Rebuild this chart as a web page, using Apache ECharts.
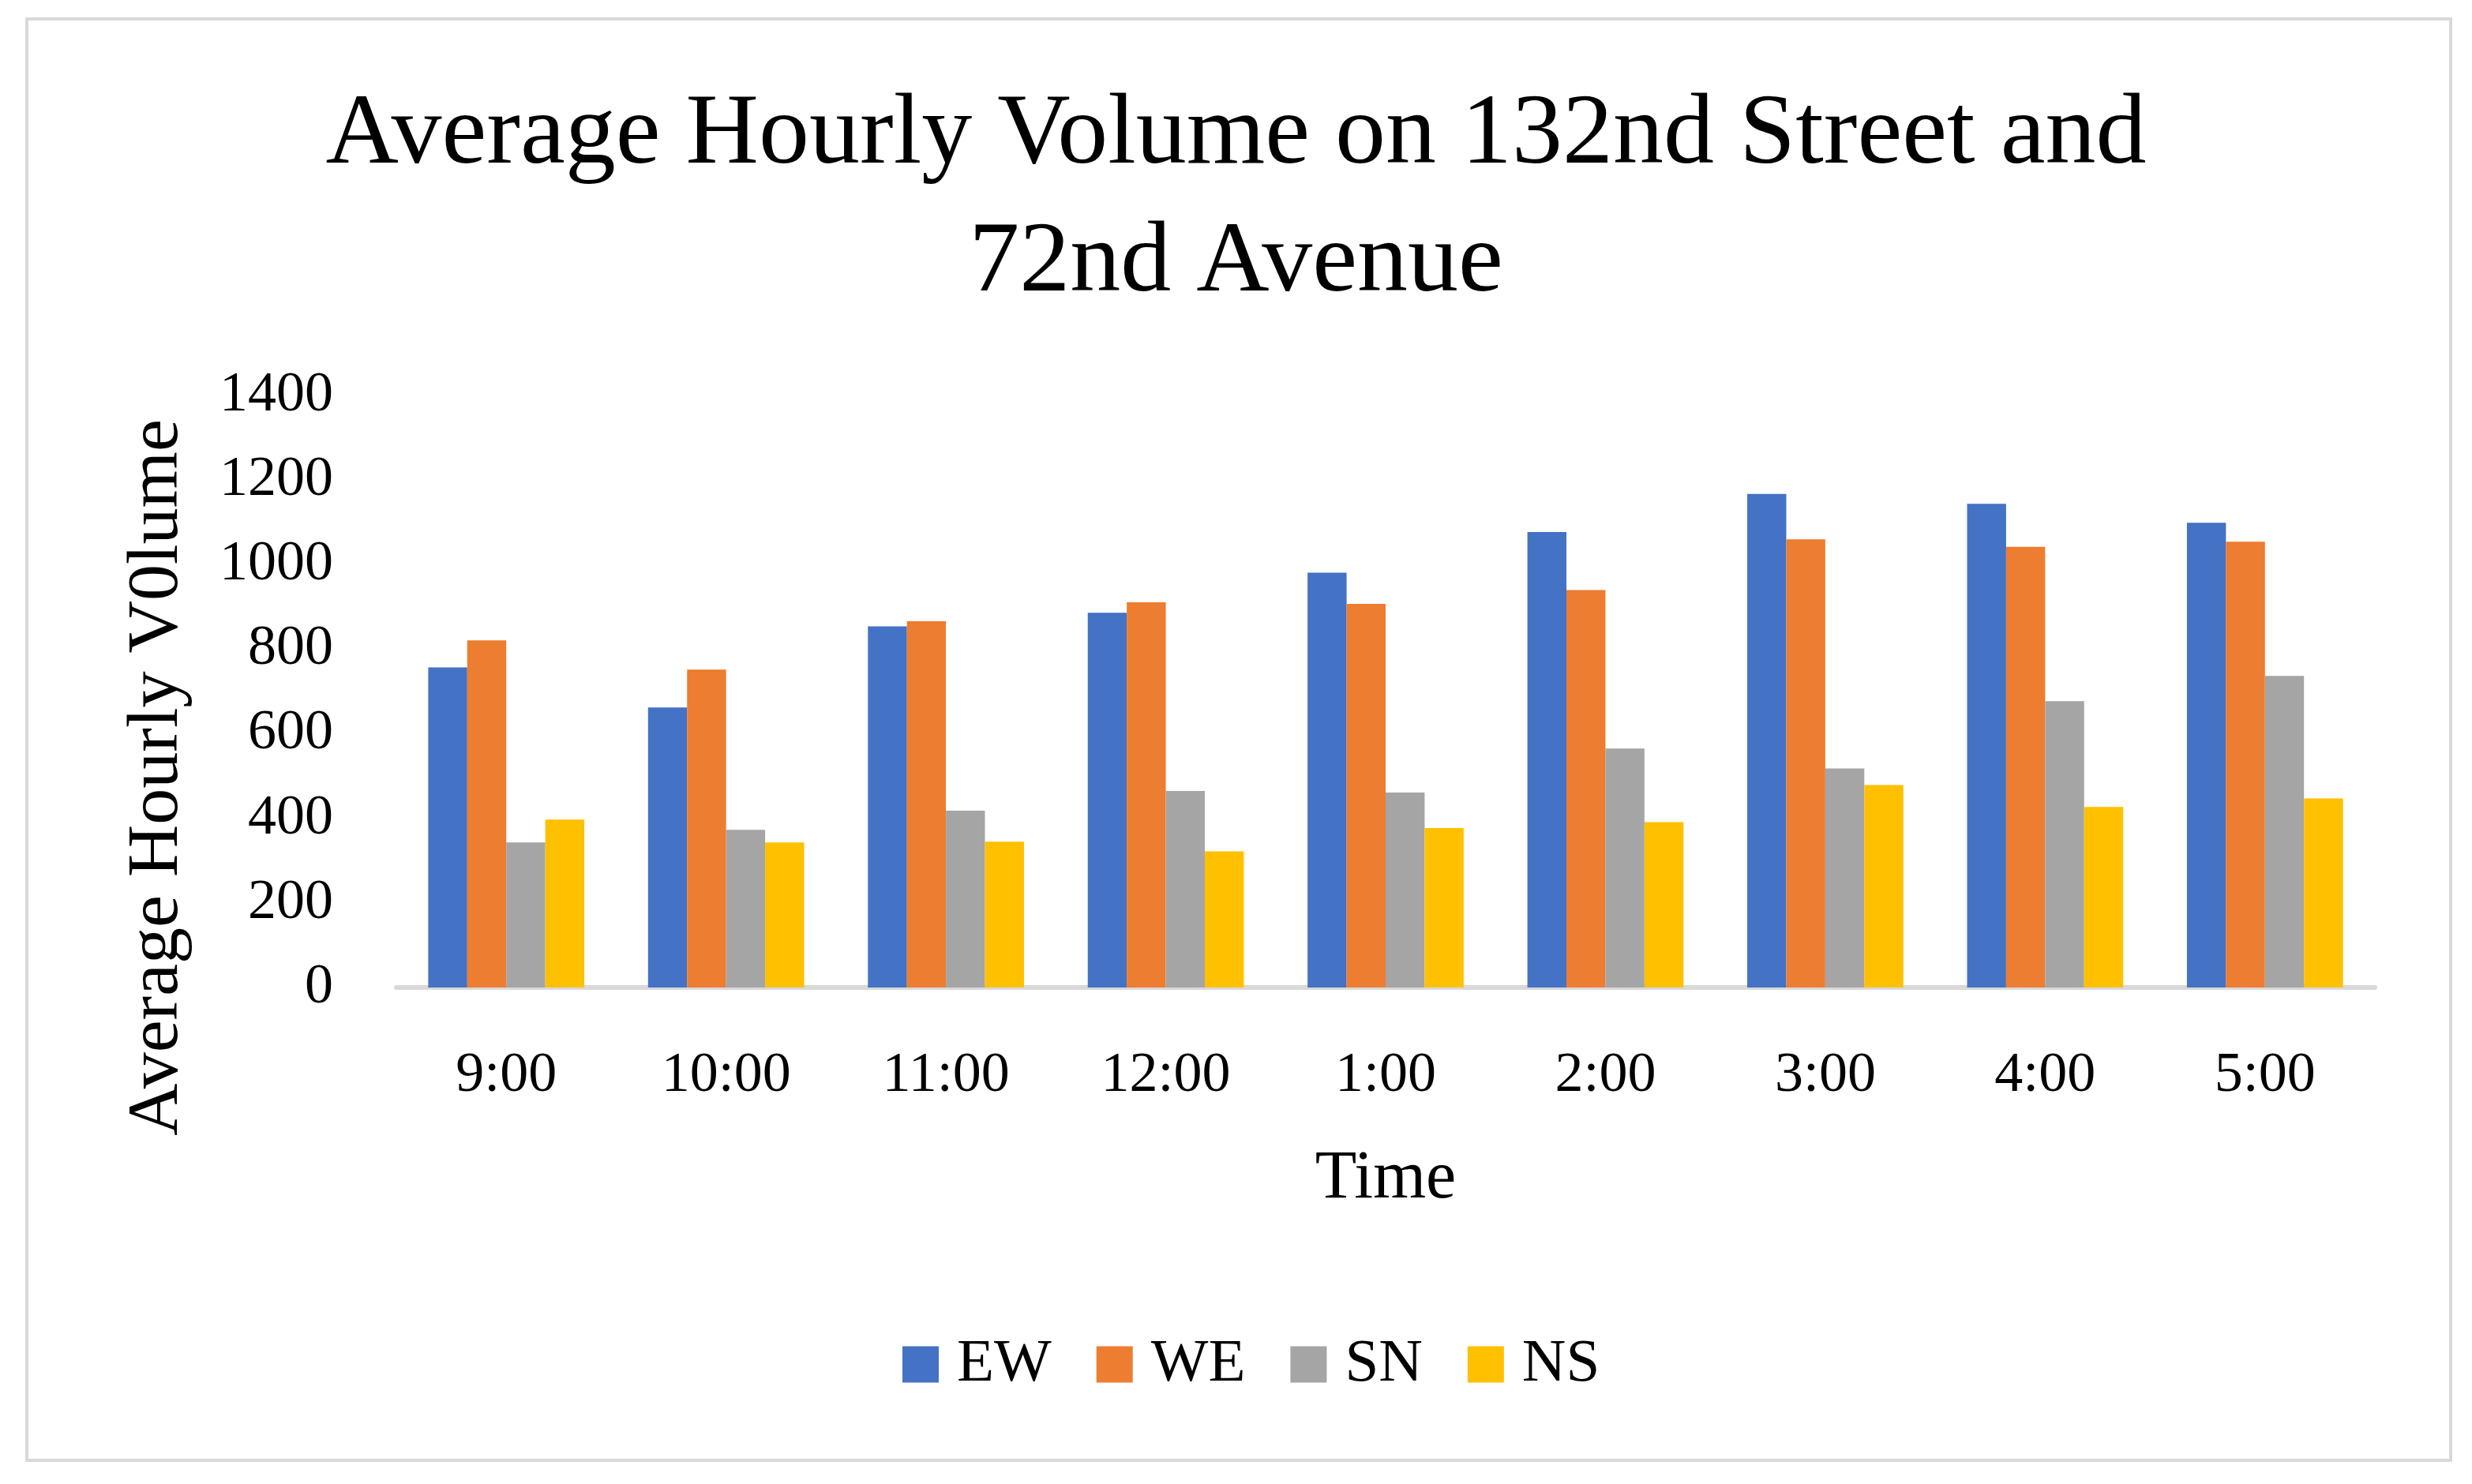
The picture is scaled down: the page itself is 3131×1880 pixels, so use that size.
<!DOCTYPE html>
<html>
<head>
<meta charset="utf-8">
<script src="https://cdn.jsdelivr.net/npm/echarts@6/dist/echarts.min.js"></script>
<style>
html,body{margin:0;padding:0;background:#fff;}
#chart{width:3131px;height:1880px;}
</style>
</head>
<body>
<div id="chart"></div>
<script>
const categories = ['9:00','10:00','11:00','12:00','1:00','2:00','3:00','4:00','5:00'];
const seriesNames = ['EW','WE','SN','NS'];
const ewValues = [757, 662, 854, 886, 981, 1077, 1167, 1144, 1099];
const weValues = [821, 752, 866, 911, 907, 940, 1060, 1042, 1054];
const snValues = [343, 373, 418, 465, 461, 565, 518, 677, 737];
const nsValues = [397, 343, 345, 322, 377, 391, 479, 427, 447];
const colors = ['#4472C4', '#ED7D31', '#A5A5A5', '#FFC000'];
const yTicks = [0, 200, 400, 600, 800, 1000, 1200, 1400];

const font = "'Liberation Serif', 'Times New Roman', serif";
const chart = echarts.init(document.getElementById('chart'));
const allValues = [ewValues, weValues, snValues, nsValues];

chart.setOption({
  backgroundColor: '#ffffff',
  animation: false,
  color: colors,
  title: {
    text: 'Average Hourly Volume on 132nd Street and\n72nd Avenue',
    left: 'center',
    top: 86,
    textStyle: { fontFamily: font, fontSize: 128, fontWeight: 'normal', color: '#000', lineHeight: 162, align: 'center' }
  },
  graphic: [
    { type: 'rect', shape: { x: 34, y: 24, width: 3070, height: 1826 }, style: { fill: 'none', stroke: '#d9d9d9', lineWidth: 4 }, z: -1 },
    { type: 'text', x: 200, y: 985, rotation: Math.PI / 2,
      style: { text: 'Average Hourly V0lume', fontFamily: font, fontSize: 92, fill: '#000', textAlign: 'center', textVerticalAlign: 'middle' } }
  ],
  legend: {
    data: seriesNames,
    left: 1138,
    top: 1685,
    icon: 'rect',
    itemWidth: 46,
    itemHeight: 46,
    itemGap: 57,
    textStyle: { fontFamily: font, fontSize: 77, color: '#000', padding: [0, 0, 0, 18] }
  },
  grid: { left: 502, right: 123, top: 501, bottom: 629, containLabel: false },
  xAxis: {
    type: 'category',
    data: categories,
    name: 'Time',
    nameLocation: 'middle',
    nameGap: 200,
    nameTextStyle: { fontFamily: font, fontSize: 86, color: '#000' },
    axisLine: { show: true, lineStyle: { color: '#d9d9d9', width: 6 } },
    axisTick: { show: false },
    axisLabel: { fontFamily: font, fontSize: 72, color: '#000', margin: 76 }
  },
  yAxis: {
    type: 'value',
    min: yTicks[0],
    max: yTicks[yTicks.length - 1],
    interval: 200,
    axisLine: { show: false },
    axisTick: { show: false },
    splitLine: { show: false },
    axisLabel: { fontFamily: font, fontSize: 72, color: '#000', margin: 80, formatter: v => String(v) }
  },
  series: seriesNames.map((name, i) => ({
    name: name,
    type: 'bar',
    data: allValues[i],
    barGap: '0%',
    barCategoryGap: '29%',
    itemStyle: { color: colors[i] }
  }))
});
</script>
</body>
</html>
